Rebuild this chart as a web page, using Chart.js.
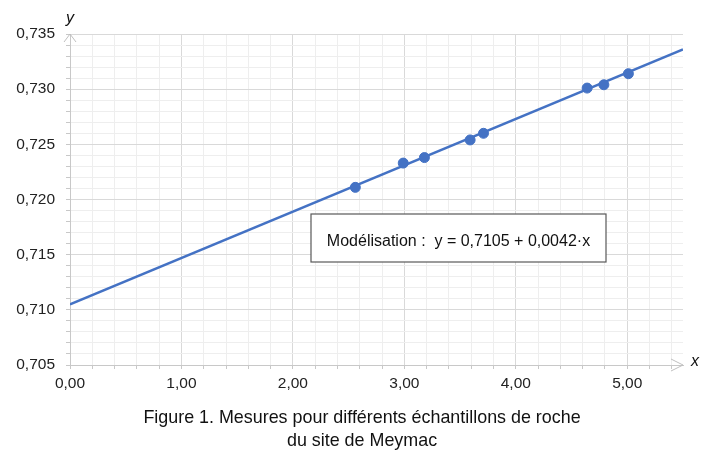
<!DOCTYPE html>
<html>
<head>
<meta charset="utf-8">
<script src="https://cdn.jsdelivr.net/npm/chart.js@4.4.0/dist/chart.umd.min.js"></script>
<style>
html,body{margin:0;padding:0;background:#fff;}
#wrap{width:710px;height:458px;position:relative;}
</style>
</head>
<body>
<div id="wrap"><canvas id="c"></canvas></div>
<script>
// ---- data ----
const sampleX = [2.56, 2.99, 3.18, 3.59, 3.71, 4.64, 4.79, 5.01];
const sampleY = [0.7211, 0.7233, 0.7238, 0.7254, 0.7260, 0.7301, 0.7304, 0.7314];
const modelIntercept = 0.7105;
const modelSlope = 0.0042;
const modelXRange = [0, 5.5];
const xTickLabels = ['0,00', '1,00', '2,00', '3,00', '4,00', '5,00'];
const yTickLabels = ['0,705', '0,710', '0,715', '0,720', '0,725', '0,730', '0,735'];
const modelLabel = 'Modélisation :  y = 0,7105 + 0,0042·x';
const captionLines = ['Figure 1. Mesures pour différents échantillons de roche', 'du site de Meymac'];
const xAxisName = 'x';
const yAxisName = 'y';

const FONT = "'Liberation Sans', Arial, sans-serif";
const BLUE = '#4472C4';

const scatterPoints = sampleX.map((x, i) => ({x: x, y: sampleY[i]}));
const modelPoints = modelXRange.map(x => ({x: x, y: modelIntercept + modelSlope * x}));

const isXMajor = v => Math.abs(v - Math.round(v)) < 1e-6;
const isYMajor = v => Math.round(v * 1000) % 5 === 0;

const decorations = {
  id: 'decorations',
  afterDatasetsDraw(chart) {
    const {ctx, chartArea: a} = chart;
    ctx.save();
    // model box
    const bx1 = 311, by1 = 214, bx2 = 606, by2 = 262;
    ctx.fillStyle = '#ffffff';
    ctx.fillRect(bx1, by1, bx2 - bx1, by2 - by1);
    ctx.strokeStyle = '#595959';
    ctx.lineWidth = 1.2;
    ctx.strokeRect(bx1, by1, bx2 - bx1, by2 - by1);
    ctx.fillStyle = '#111';
    ctx.font = "16px " + FONT;
    ctx.textAlign = 'center';
    ctx.textBaseline = 'alphabetic';
    ctx.fillText(modelLabel, (bx1 + bx2) / 2, 246);
    // arrows
    ctx.strokeStyle = '#bfbfbf';
    ctx.lineWidth = 1;
    ctx.beginPath();
    ctx.moveTo(a.left - 6, a.top + 8);
    ctx.lineTo(a.left, a.top);
    ctx.lineTo(a.left + 6, a.top + 8);
    ctx.stroke();
    ctx.beginPath();
    ctx.moveTo(a.right - 12, a.bottom - 6);
    ctx.lineTo(a.right, a.bottom);
    ctx.lineTo(a.right - 12, a.bottom + 6);
    ctx.stroke();
    // axis names
    ctx.fillStyle = '#111';
    ctx.font = "italic 16px " + FONT;
    ctx.textAlign = 'left';
    ctx.fillText(yAxisName, a.left - 4, a.top - 11);
    ctx.fillText(xAxisName, a.right + 8, a.bottom + 1);
    // caption
    ctx.font = "17.9px " + FONT;
    ctx.textAlign = 'center';
    ctx.fillText(captionLines[0], 362, 423);
    ctx.fillText(captionLines[1], 362, 445.5);
    ctx.restore();
  }
};

new Chart(document.getElementById('c'), {
  type: 'scatter',
  data: {
    datasets: [
      {
        type: 'scatter',
        data: scatterPoints,
        backgroundColor: BLUE,
        borderColor: BLUE,
        pointRadius: 5,
        pointHoverRadius: 5,
        order: 0
      },
      {
        type: 'line',
        data: modelPoints,
        borderColor: BLUE,
        borderWidth: 2.5,
        pointRadius: 0,
        fill: false,
        order: 1
      }
    ]
  },
  options: {
    responsive: true,
    maintainAspectRatio: false,
    animation: false,
    events: [],
    layout: {padding: {left: 0, top: 34, right: 27, bottom: 63}},
    plugins: {
      legend: {display: false},
      tooltip: {enabled: false},
      title: {display: false}
    },
    scales: {
      x: {
        type: 'linear',
        min: 0,
        max: 5.5,
        afterBuildTicks: scale => {
          const t = [];
          for (let i = 0; i <= 27; i++) t.push({value: Math.round(i * 2) / 10});
          scale.ticks = t;
        },
        afterFit: scale => { scale.height = 30; },
        ticks: {
          autoSkip: false,
          maxRotation: 0,
          color: '#222',
          font: {family: FONT, size: 15.5},
          padding: 5,
          callback: v => isXMajor(v) ? xTickLabels[Math.round(v)] : ''
        },
        grid: {
          color: c => isXMajor(c.tick.value) ? '#d9d9d9' : '#eeeeee',
          tickColor: '#c8c8c8',
          tickLength: 4,
          lineWidth: 1
        },
        border: {color: '#c8c8c8', width: 1}
      },
      y: {
        type: 'linear',
        min: 0.705,
        max: 0.735,
        afterBuildTicks: scale => {
          const t = [];
          for (let i = 0; i <= 30; i++) t.push({value: (705 + i) / 1000});
          scale.ticks = t;
        },
        afterFit: scale => { scale.width = 70; },
        ticks: {
          autoSkip: false,
          color: '#222',
          font: {family: FONT, size: 15.5},
          padding: 11,
          callback: v => isYMajor(v) ? yTickLabels[Math.round((v * 1000 - 705) / 5)] : ''
        },
        grid: {
          color: c => isYMajor(c.tick.value) ? '#d9d9d9' : '#eeeeee',
          tickColor: '#c8c8c8',
          tickLength: 4,
          lineWidth: 1
        },
        border: {color: '#c8c8c8', width: 1}
      }
    }
  },
  plugins: [decorations]
});
</script>
</body>
</html>
